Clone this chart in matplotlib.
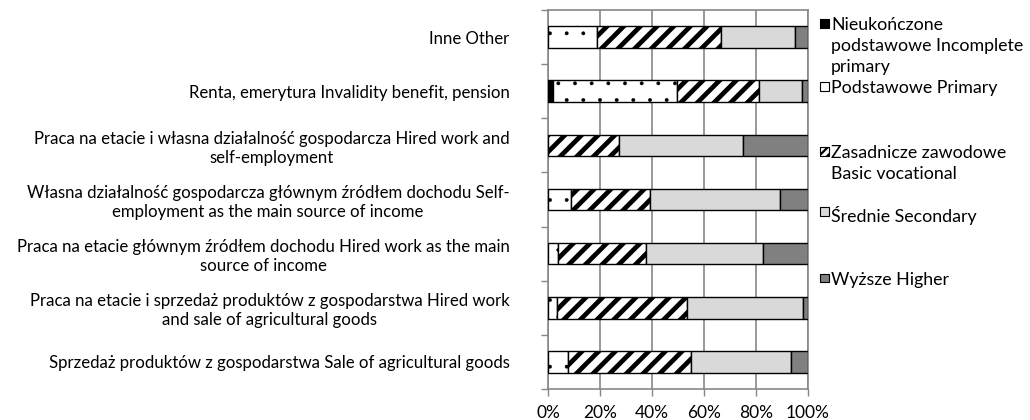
import matplotlib
matplotlib.use("Agg")
import matplotlib.pyplot as plt
from matplotlib.patches import Rectangle
import numpy as np

plt.rcParams['font.family'] = ['Lato', 'DejaVu Sans']

categories = [
    "Inne Other",
    "Renta, emerytura Invalidity benefit, pension",
    "Praca na etacie i własna działalność gospodarcza Hired work and\nself-employment",
    "Własna działalność gospodarcza głównym źródłem dochodu Self-\nemployment as the main source of income",
    "Praca na etacie głównym źródłem dochodu Hired work as the main\nsource of income",
    "Praca na etacie i sprzedaż produktów z gospodarstwa Hired work\nand sale of agricultural goods",
    "Sprzedaż produktów z gospodarstwa Sale of agricultural goods",
]

series_names = [
    "Nieukończone\npodstawowe Incomplete\nprimary",
    "Podstawowe Primary",
    "Zasadnicze zawodowe\nBasic vocational",
    "Średnie Secondary",
    "Wyższe Higher",
]

incomplete_primary = [0.0, 1.9, 0.0, 0.0, 0.0, 0.0, 0.0]
primary            = [18.6, 47.5, 0.0, 8.7, 3.8, 3.2, 7.7]
basic_vocational   = [48.0, 31.6, 27.2, 30.4, 34.0, 50.3, 47.2]
secondary          = [28.4, 16.7, 47.8, 50.0, 44.9, 44.6, 38.7]
higher             = [5.0, 2.3, 25.0, 10.9, 17.3, 1.9, 6.4]

xtick_labels = ["0%", "20%", "40%", "60%", "80%", "100%"]

series = [incomplete_primary, primary, basic_vocational, secondary, higher]
facecolors = ["black", "white", "white", "#d9d9d9", "#808080"]
hatches = [None, ".", "//", None, None]
hatch_lw = [1.0, 0.3, 3.4, 1.0, 1.0]

W, H = 1030, 420
fig = plt.figure(figsize=(W / 100, H / 100), dpi=100)
ax = fig.add_axes([548.3 / W, 1 - 389 / H, (808 - 548.3) / W, (389 - 10) / H])

ypos = np.arange(len(categories))
left = np.zeros(len(categories))
for vals, fc, ht, hlw in zip(series, facecolors, hatches, hatch_lw):
    vals = np.asarray(vals)
    with plt.rc_context({'hatch.linewidth': hlw}):
        bars = ax.barh(ypos, vals, left=left, height=0.4, color=fc,
                       edgecolor="black", linewidth=1.0, hatch=ht, zorder=3)
    for b, v in zip(bars, vals):
        if hasattr(b, "set_hatch_linewidth"):
            b.set_hatch_linewidth(hlw)
        if v == 0:
            b.set_linewidth(0)
    left = left + vals

ax.set_xlim(0, 100)
ax.set_ylim(len(categories) - 0.5, -0.5)
ax.set_xticks(np.arange(0, 101, 20))
ax.set_xticklabels(xtick_labels, fontsize=12.5)
ax.xaxis.grid(True, color="#878787", linewidth=1.2, zorder=0)
ax.set_axisbelow(True)

ax.set_yticks(ypos)
ax.set_yticklabels(categories, fontsize=12.1, linespacing=1.24)
for t in ax.get_yticklabels():
    t.set_multialignment("center")
ax.tick_params(axis="y", which="major", length=0, pad=28)
ax.set_yticks(np.arange(-0.5, len(categories), 1.0), minor=True)
ax.tick_params(axis="y", which="minor", length=5, color="#878787", width=1)
ax.tick_params(axis="x", length=5, color="#878787", width=1, pad=6.5)

for s in ["left", "bottom", "top", "right"]:
    ax.spines[s].set_color("#878787")
    ax.spines[s].set_linewidth(1.2)

# legend drawn manually
leg_rows = [24, 87, 152, 212, 278]
for name, fc, ht, hlw, yy in zip(series_names, facecolors, hatches, hatch_lw, leg_rows):
    mk_lw = 1.6 if ht == "//" else hlw
    with plt.rc_context({'hatch.linewidth': mk_lw}):
        r = Rectangle((820 / W, 1 - (yy + 4) / H), 8.5 / W, 8.5 / H,
                      transform=fig.transFigure, facecolor=fc, edgecolor="black",
                      linewidth=0.8, hatch=("////" if ht == "//" else None))
    if hasattr(r, "set_hatch_linewidth"):
        r.set_hatch_linewidth(mk_lw)
    fig.patches.append(r)
    fig.text(831 / W, 1 - (yy - 6.5) / H, name, fontsize=12.8, ha="left", va="top",
             linespacing=1.36)

fig.savefig("out.png", dpi=100)
